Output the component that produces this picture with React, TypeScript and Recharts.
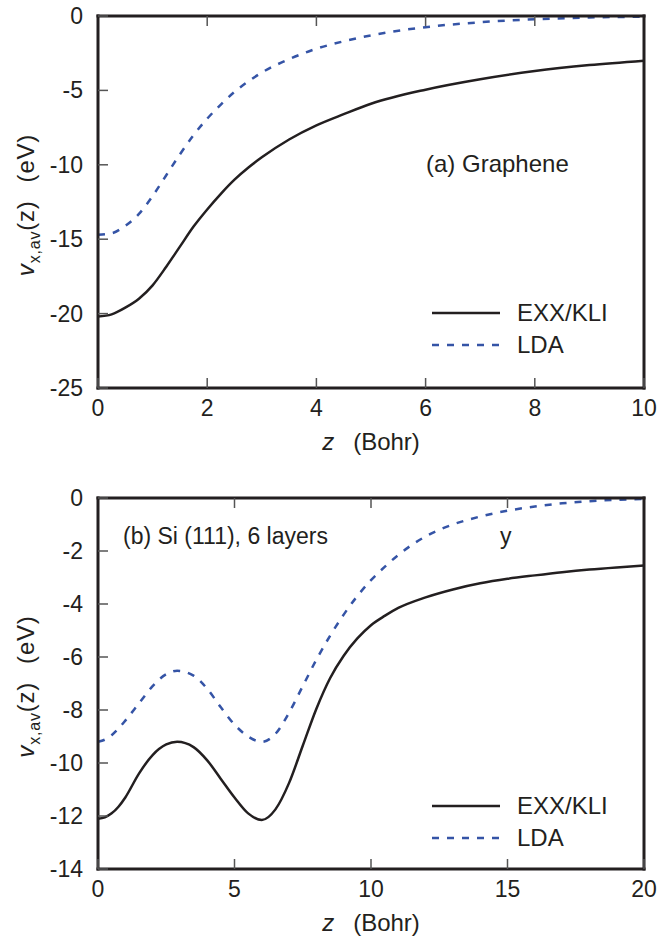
import React from "react";
import { LineChart, Line, XAxis, YAxis, Legend } from "recharts";

// (a) graphene
const grapheneZ = [0, 0.25, 0.5, 0.75, 1, 1.25, 1.5, 1.75, 2, 2.25, 2.5, 2.75, 3, 3.5, 4, 4.5, 5, 6, 7, 8, 9, 10];
const grapheneExx = [-20.2, -20.05, -19.6, -19.0, -18.1, -16.85, -15.5, -14.15, -13.0, -11.95, -11.0, -10.2, -9.5, -8.3, -7.35, -6.6, -5.9, -4.95, -4.25, -3.7, -3.3, -3.0];
const grapheneLda = [-14.7, -14.6, -14.1, -13.3, -12.1, -10.7, -9.3, -8.0, -6.9, -5.95, -5.1, -4.4, -3.8, -2.9, -2.2, -1.7, -1.3, -0.75, -0.42, -0.22, -0.1, -0.05];
const grapheneXTicks = [0, 2, 4, 6, 8, 10];
const grapheneYTicks = [0, -5, -10, -15, -20, -25];

// (b) Si(111), 6 layers
const siZ = [0, 0.25, 0.5, 0.75, 1, 1.5, 2, 2.5, 2.9, 3.5, 4, 4.5, 5, 5.5, 6, 6.5, 7, 7.5, 8, 8.5, 9, 9.5, 10, 10.5, 11, 12, 13, 14, 15, 16, 17, 18, 19, 20];
const siExx = [-12.1, -12.05, -11.9, -11.65, -11.3, -10.4, -9.7, -9.3, -9.2, -9.4, -9.9, -10.6, -11.3, -11.9, -12.15, -11.75, -10.75, -9.35, -7.95, -6.8, -5.95, -5.3, -4.8, -4.45, -4.15, -3.75, -3.45, -3.22, -3.05, -2.92, -2.8, -2.7, -2.62, -2.55];
const siLda = [-9.2, -9.12, -8.95, -8.7, -8.4, -7.75, -7.1, -6.65, -6.52, -6.7, -7.2, -7.9, -8.55, -9.0, -9.2, -8.9, -8.1, -7.1, -6.1, -5.2, -4.4, -3.7, -3.1, -2.6, -2.15, -1.45, -1.0, -0.7, -0.48, -0.32, -0.2, -0.12, -0.07, -0.04];
const siXTicks = [0, 5, 10, 15, 20];
const siYTicks = [0, -2, -4, -6, -8, -10, -12, -14];

const INK = "#231f20";
const BLUE = "#3554a6";
const FONT = "'Liberation Sans', Arial, sans-serif";
const FS = 23;

const toRows = (z: number[], exx: number[], lda: number[]) =>
  z.map((v, i) => ({ z: v, exx: exx[i], lda: lda[i] }));

const grapheneData = toRows(grapheneZ, grapheneExx, grapheneLda);
const siData = toRows(siZ, siExx, siLda);

// ticks drawn pointing into the frame
const LeftTick = (props: any) => {
  const { x, y, payload } = props;
  return (
    <g>
      <line x1={x} y1={y} x2={x + 10} y2={y} stroke="#555" strokeWidth={1.5} />
      <text x={x - 15} y={y + 8} textAnchor="end" fontSize={FS} fontFamily={FONT} fill={INK}>
        {payload.value}
      </text>
    </g>
  );
};

const RightTick = (props: any) => {
  const { x, y } = props;
  return <line x1={x} y1={y} x2={x - 10} y2={y} stroke="#555" strokeWidth={1.5} />;
};

const BottomTick = (props: any) => {
  const { x, y, payload } = props;
  return (
    <g>
      <line x1={x} y1={y} x2={x} y2={y - 10} stroke="#555" strokeWidth={1.5} />
      <text x={x} y={y + 28} textAnchor="middle" fontSize={FS} fontFamily={FONT} fill={INK}>
        {payload.value}
      </text>
    </g>
  );
};

const TopTick = (props: any) => {
  const { x, y } = props;
  return <line x1={x} y1={y} x2={x} y2={y + 10} stroke="#555" strokeWidth={1.5} />;
};

const YTitle = (props: any) => {
  const vb = props.viewBox || {};
  const cy = vb.y + vb.height / 2 + 3;
  const bx = 34;
  return (
    <text
      x={bx}
      y={cy}
      transform={`rotate(-90, ${bx}, ${cy})`}
      textAnchor="middle"
      fontSize={24}
      fontFamily={FONT}
      fill={INK}
      letterSpacing={0.8}
    >
      <tspan fontStyle="italic">v</tspan>
      <tspan fontSize={16} dy={6}>x,av</tspan>
      <tspan dy={-6}>(z)</tspan>
      <tspan dx={18}>(eV)</tspan>
    </text>
  );
};

const XTitle = (props: any) => {
  const vb = props.viewBox || {};
  const cx = vb.x + vb.width / 2;
  return (
    <text x={cx} y={vb.y + 62} textAnchor="middle" fontSize={24} fontFamily={FONT} fill={INK}>
      <tspan fontStyle="italic">z</tspan>
      <tspan dx={19}>(Bohr)</tspan>
    </text>
  );
};

const LegendBox = (props: any) => {
  const items = props.payload || [];
  return (
    <div style={{ fontFamily: FONT, fontSize: 24, color: INK }}>
      {items.map((it: any) => {
        const dashed = it.dataKey === "lda";
        return (
          <div key={it.value} style={{ display: "flex", alignItems: "center", height: 32 }}>
            <svg width={68} height={6} style={{ marginRight: 17 }}>
              <line
                x1={0}
                y1={3}
                x2={68}
                y2={3}
                stroke={it.color}
                strokeWidth={2.5}
                strokeDasharray={dashed ? "7 8" : undefined}
              />
            </svg>
            <span>{it.value}</span>
          </div>
        );
      })}
    </div>
  );
};

const axisLineStyle = { stroke: INK, strokeWidth: 3, strokeLinecap: "square" as const };

function Panel(props: {
  data: any[];
  xMax: number;
  xTicks: number[];
  yMin: number;
  yTicks: number[];
  height: number;
  margin: { top: number; right: number; bottom: number; left: number };
  legendTop: number;
}) {
  const { data, xMax, xTicks, yMin, yTicks, height, margin, legendTop } = props;
  return (
    <LineChart width={663} height={height} data={data} margin={margin}>
      <XAxis
        dataKey="z"
        type="number"
        domain={[0, xMax]}
        ticks={xTicks}
        height={1}
        tickSize={0}
        tickMargin={0}
        tick={<BottomTick />}
        axisLine={axisLineStyle}
        tickLine={false}
        label={<XTitle />}
        interval={0}
      />
      <XAxis
        xAxisId="top"
        orientation="top"
        dataKey="z"
        type="number"
        domain={[0, xMax]}
        ticks={xTicks.slice(1, -1)}
        height={1}
        tickSize={0}
        tickMargin={0}
        tick={<TopTick />}
        axisLine={axisLineStyle}
        tickLine={false}
        interval={0}
      />
      <YAxis
        type="number"
        domain={[yMin, 0]}
        ticks={yTicks}
        width={1}
        tickSize={0}
        tickMargin={0}
        tick={<LeftTick />}
        axisLine={axisLineStyle}
        tickLine={false}
        label={<YTitle />}
        interval={0}
      />
      <YAxis
        yAxisId="right"
        orientation="right"
        type="number"
        domain={[yMin, 0]}
        ticks={yTicks.slice(1, -1)}
        width={1}
        tickSize={0}
        tickMargin={0}
        tick={<RightTick />}
        axisLine={axisLineStyle}
        tickLine={false}
        interval={0}
      />
      <Line
        type="monotone"
        dataKey="exx"
        name="EXX/KLI"
        stroke={INK}
        strokeWidth={2.5}
        dot={false}
        isAnimationActive={false}
      />
      <Line
        type="monotone"
        dataKey="lda"
        name="LDA"
        stroke={BLUE}
        strokeWidth={2.5}
        strokeDasharray="7 8"
        dot={false}
        isAnimationActive={false}
      />
      <Legend
        layout="vertical"
        align="center"
        verticalAlign="middle"
        content={<LegendBox />}
        wrapperStyle={{ left: 432, top: legendTop, width: 200 }}
      />
    </LineChart>
  );
}

export default function App() {
  return (
    <div
      style={{
        position: "absolute",
        left: 0,
        top: 0,
        width: 663,
        height: 943,
        background: "#fff",
        fontFamily: FONT,
        color: INK,
      }}
    >
      <div style={{ position: "absolute", left: 0, top: 0 }}>
        <Panel
          data={grapheneData}
          xMax={10}
          xTicks={grapheneXTicks}
          yMin={-25}
          yTicks={grapheneYTicks}
          height={470}
          margin={{ top: 15, right: 18, bottom: 81, left: 97 }}
          legendTop={297}
        />
      </div>
      <div style={{ position: "absolute", left: 0, top: 470 }}>
        <Panel
          data={siData}
          xMax={20}
          xTicks={siXTicks}
          yMin={-14}
          yTicks={siYTicks}
          height={473}
          margin={{ top: 27, right: 18, bottom: 73, left: 97 }}
          legendTop={320}
        />
      </div>
      <div style={{ position: "absolute", left: 426, top: 150, fontSize: 24, whiteSpace: "nowrap" }}>
        (a) Graphene
      </div>
      <div style={{ position: "absolute", left: 123, top: 523, fontSize: FS, whiteSpace: "nowrap" }}>
        (b) Si (111), 6 layers
      </div>
      <div style={{ position: "absolute", left: 500, top: 523, fontSize: FS }}>y</div>
    </div>
  );
}
